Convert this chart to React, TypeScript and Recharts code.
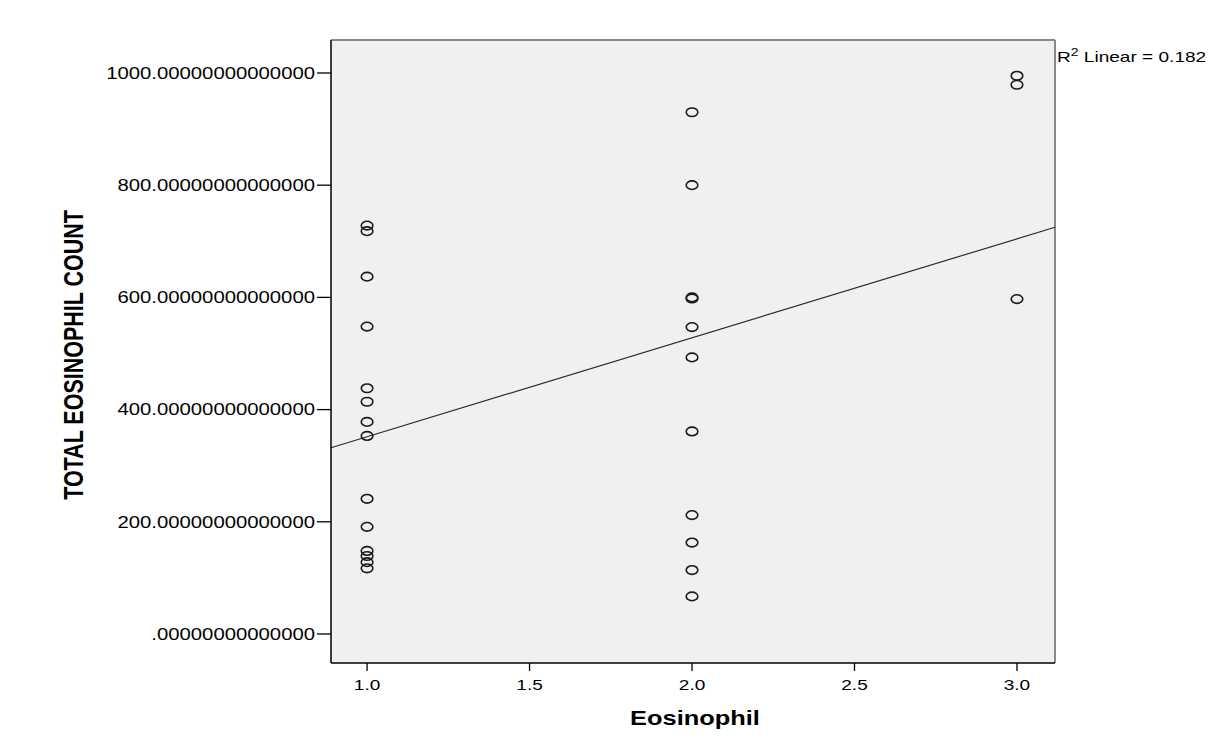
import { ScatterChart, Scatter, XAxis, YAxis, CartesianGrid, ReferenceLine, Label } from "recharts"

// values, one list per Eosinophil level
const levelOne = [728, 718, 637, 548, 438, 414, 378, 353, 241, 191, 148, 139, 128, 117]
const levelTwo = [930, 800, 600, 598, 547, 493, 361, 212, 163, 114, 67]
const levelThree = [995, 979, 597]
const eosinophilLevels = [1, 2, 3]

const xTicks = [1, 1.5, 2, 2.5, 3]
const yTicks = [0, 200, 400, 600, 800, 1000]
const xDomain = [0.889, 3.117]
const yDomain = [-51.7, 1058.8]

// fit line ends, read at the plot edges
const fitLine = [{ x: 0.889, y: 332 }, { x: 3.117, y: 725 }]
const rSquared = "0.182"

const points = [levelOne, levelTwo, levelThree].flatMap((vals, i) =>
    vals.map(v => ({ eosinophil: eosinophilLevels[i], total: v }))
)

const FONT = '"Liberation Sans", Arial, sans-serif'
const SX = 1.27

const yLabelText = (v: number) => (v === 0 ? "" : String(v)) + ".00000000000000"

function YTick(props: any) {
    const { x, y, payload } = props
    return <text transform={`translate(${x},${y}) scale(${SX},1)`} textAnchor="end" dy="0.36em"
        fontFamily={FONT} fontSize={16} fill="#000">{yLabelText(payload.value)}</text>
}

function XTick(props: any) {
    const { x, y, payload } = props
    return <text transform={`translate(${x},${y}) scale(${SX},1)`} textAnchor="middle" dy="0.71em"
        fontFamily={FONT} fontSize={15} fill="#000">{payload.value.toFixed(1)}</text>
}

function Ring(props: any) {
    return <ellipse cx={props.cx} cy={props.cy} rx={5.8} ry={4.3} fill="none" stroke="#1a1a1a" strokeWidth={1.6} />
}

export default function App() {
    return <div style={{ position: "relative", width: 1222, height: 740 }}>
        <ScatterChart width={1222} height={740} margin={{ top: 32, right: 175, bottom: 25, left: 23 }}>
            <CartesianGrid horizontal={false} vertical={false} fill="#f0f0f0" fillOpacity={1} />
            <XAxis type="number" dataKey="eosinophil" domain={xDomain} ticks={xTicks} allowDataOverflow
                height={60} tickSize={8} tickMargin={8} tick={<XTick />}
                axisLine={{ stroke: "#000", strokeWidth: 1.5 }} tickLine={{ stroke: "#000", strokeWidth: 1.3 }}>
                <Label content={(p: any) => {
                    const vb = p.viewBox
                    return <text transform={`translate(${vb.x + vb.width / 2 + 2},${vb.y + 62}) scale(${SX},1)`}
                        textAnchor="middle" fontFamily={FONT} fontWeight="bold" fontSize={20} fill="#000">Eosinophil</text>
                }} />
            </XAxis>
            <YAxis type="number" dataKey="total" domain={yDomain} ticks={yTicks} allowDataOverflow
                width={300} tickSize={14} tickMargin={2} tick={<YTick />}
                axisLine={{ stroke: "#000", strokeWidth: 1.5 }} tickLine={{ stroke: "#000", strokeWidth: 1.3 }}>
                <Label content={() =>
                    <text transform={`translate(65,347) scale(${SX},1) rotate(-90)`} textAnchor="middle" dy="0.35em"
                        fontFamily={FONT} fontWeight="bold" fontSize={21.5} fill="#000">TOTAL EOSINOPHIL COUNT</text>
                } />
            </YAxis>
            <ReferenceLine y={yDomain[1]} stroke="#8a8a8a" strokeWidth={2} />
            <ReferenceLine x={xDomain[1]} stroke="#8a8a8a" strokeWidth={2} />
            <ReferenceLine segment={fitLine} stroke="#2b2b2b" strokeWidth={1.2} />
            <Scatter data={points} shape={<Ring />} isAnimationActive={false} />
        </ScatterChart>
        <div style={{
            position: "absolute", left: 1049, top: 38, fontFamily: FONT, fontSize: 15, color: "#000",
            transform: `scaleX(${SX})`, transformOrigin: "0 0", whiteSpace: "nowrap"
        }}>
            R<sup style={{ fontSize: 11 }}>2</sup> Linear = {rSquared}
        </div>
    </div>
}
